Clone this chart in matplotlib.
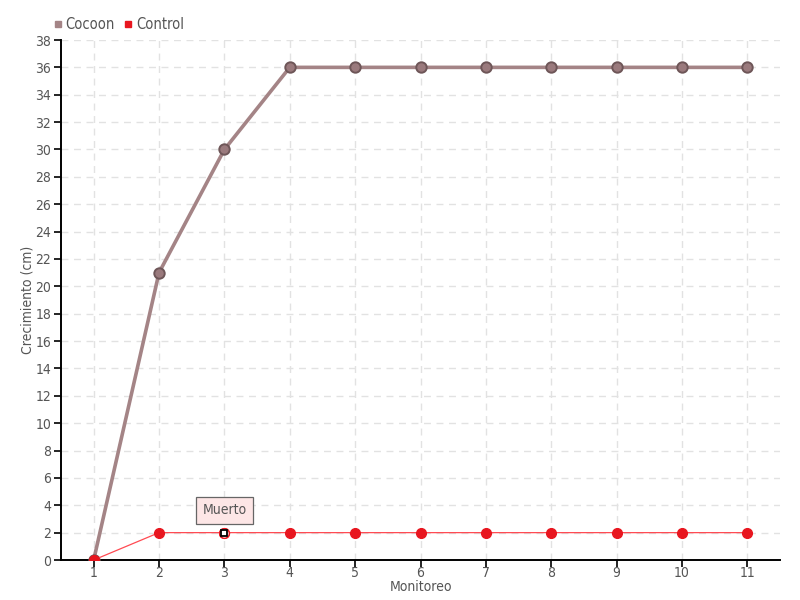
import numpy as np
import matplotlib.pyplot as plt
from matplotlib.lines import Line2D

# Données
monitoreo = [1, 2, 3, 4, 5, 6, 7, 8, 9, 10, 11]
cocoon = [0, 21, 30, 36, 36, 36, 36, 36, 36, 36, 36]
control = [0, 2, 2, 2, 2, 2, 2, 2, 2, 2, 2]
y_ticks = list(range(0, 39, 2))

TXT = '#555555'
C_COCOON = '#a48486'
C_CONTROL = '#e8161f'

plt.rcParams['font.family'] = ['DejaVu Sans']
plt.rcParams['font.stretch'] = 'condensed'

fig = plt.figure(figsize=(8, 6), dpi=100)
ax = fig.add_axes([61 / 800, 40 / 600, 719 / 800, 520 / 600])

ax.plot(monitoreo, cocoon, color=C_COCOON, lw=2.6, marker='o', ms=7.5,
        mfc='#9a7a7d', mec='#6e5658', mew=1.4, zorder=3)
ax.plot(monitoreo, control, color='#ff4a52', lw=0.9, marker='o', ms=7,
        mfc=C_CONTROL, mec=C_CONTROL, zorder=3)
# point survolé
ax.plot(monitoreo[2], control[2], 'o', ms=7, mfc='white', mec=C_CONTROL, zorder=4)
ax.plot(monitoreo[2], control[2], 's', ms=4, mfc='white', mec='black', mew=1.3, zorder=5)

ax.annotate('Muerto', xy=(monitoreo[2], control[2]), xytext=(0, 16),
            textcoords='offset points', ha='center', va='center',
            fontsize=10, color=TXT,
            bbox=dict(boxstyle='square,pad=0.45', fc='#fde6e6', ec='#666666', lw=0.9),
            zorder=6)

ax.set_xlim(0.5, 11.5)
ax.set_ylim(0, 38)
ax.set_xticks(monitoreo)
ax.set_yticks(y_ticks)
ax.tick_params(colors='black', labelcolor=TXT, labelsize=10, length=5, width=1.2,
               direction='out')
ax.tick_params(axis='y', pad=2)
ax.tick_params(axis='x', pad=-1)
ax.grid(True, color='#e2e2e2', linestyle=(0, (5, 4)), lw=1)
ax.set_axisbelow(True)
for s in ['top', 'right']:
    ax.spines[s].set_visible(False)
ax.spines['left'].set_linewidth(1.4)
ax.spines['bottom'].set_linewidth(1.4)

ax.set_xlabel('Monitoreo', color=TXT, fontsize=10, labelpad=0)
ax.set_ylabel('Crecimiento (cm)', color=TXT, fontsize=10, labelpad=1)

handles = [Line2D([], [], ls='', marker='s', ms=5, mfc=C_COCOON, mec=C_COCOON),
           Line2D([], [], ls='', marker='s', ms=5, mfc=C_CONTROL, mec=C_CONTROL)]
fig.legend(handles, ['Cocoon', 'Control'], loc='upper left',
           bbox_to_anchor=(0.05, 0.993), ncol=2, frameon=False, fontsize=10.5,
           labelcolor=TXT, handlelength=0.6, handletextpad=0.25, columnspacing=0.6)

fig.savefig('out.png', dpi=100)
